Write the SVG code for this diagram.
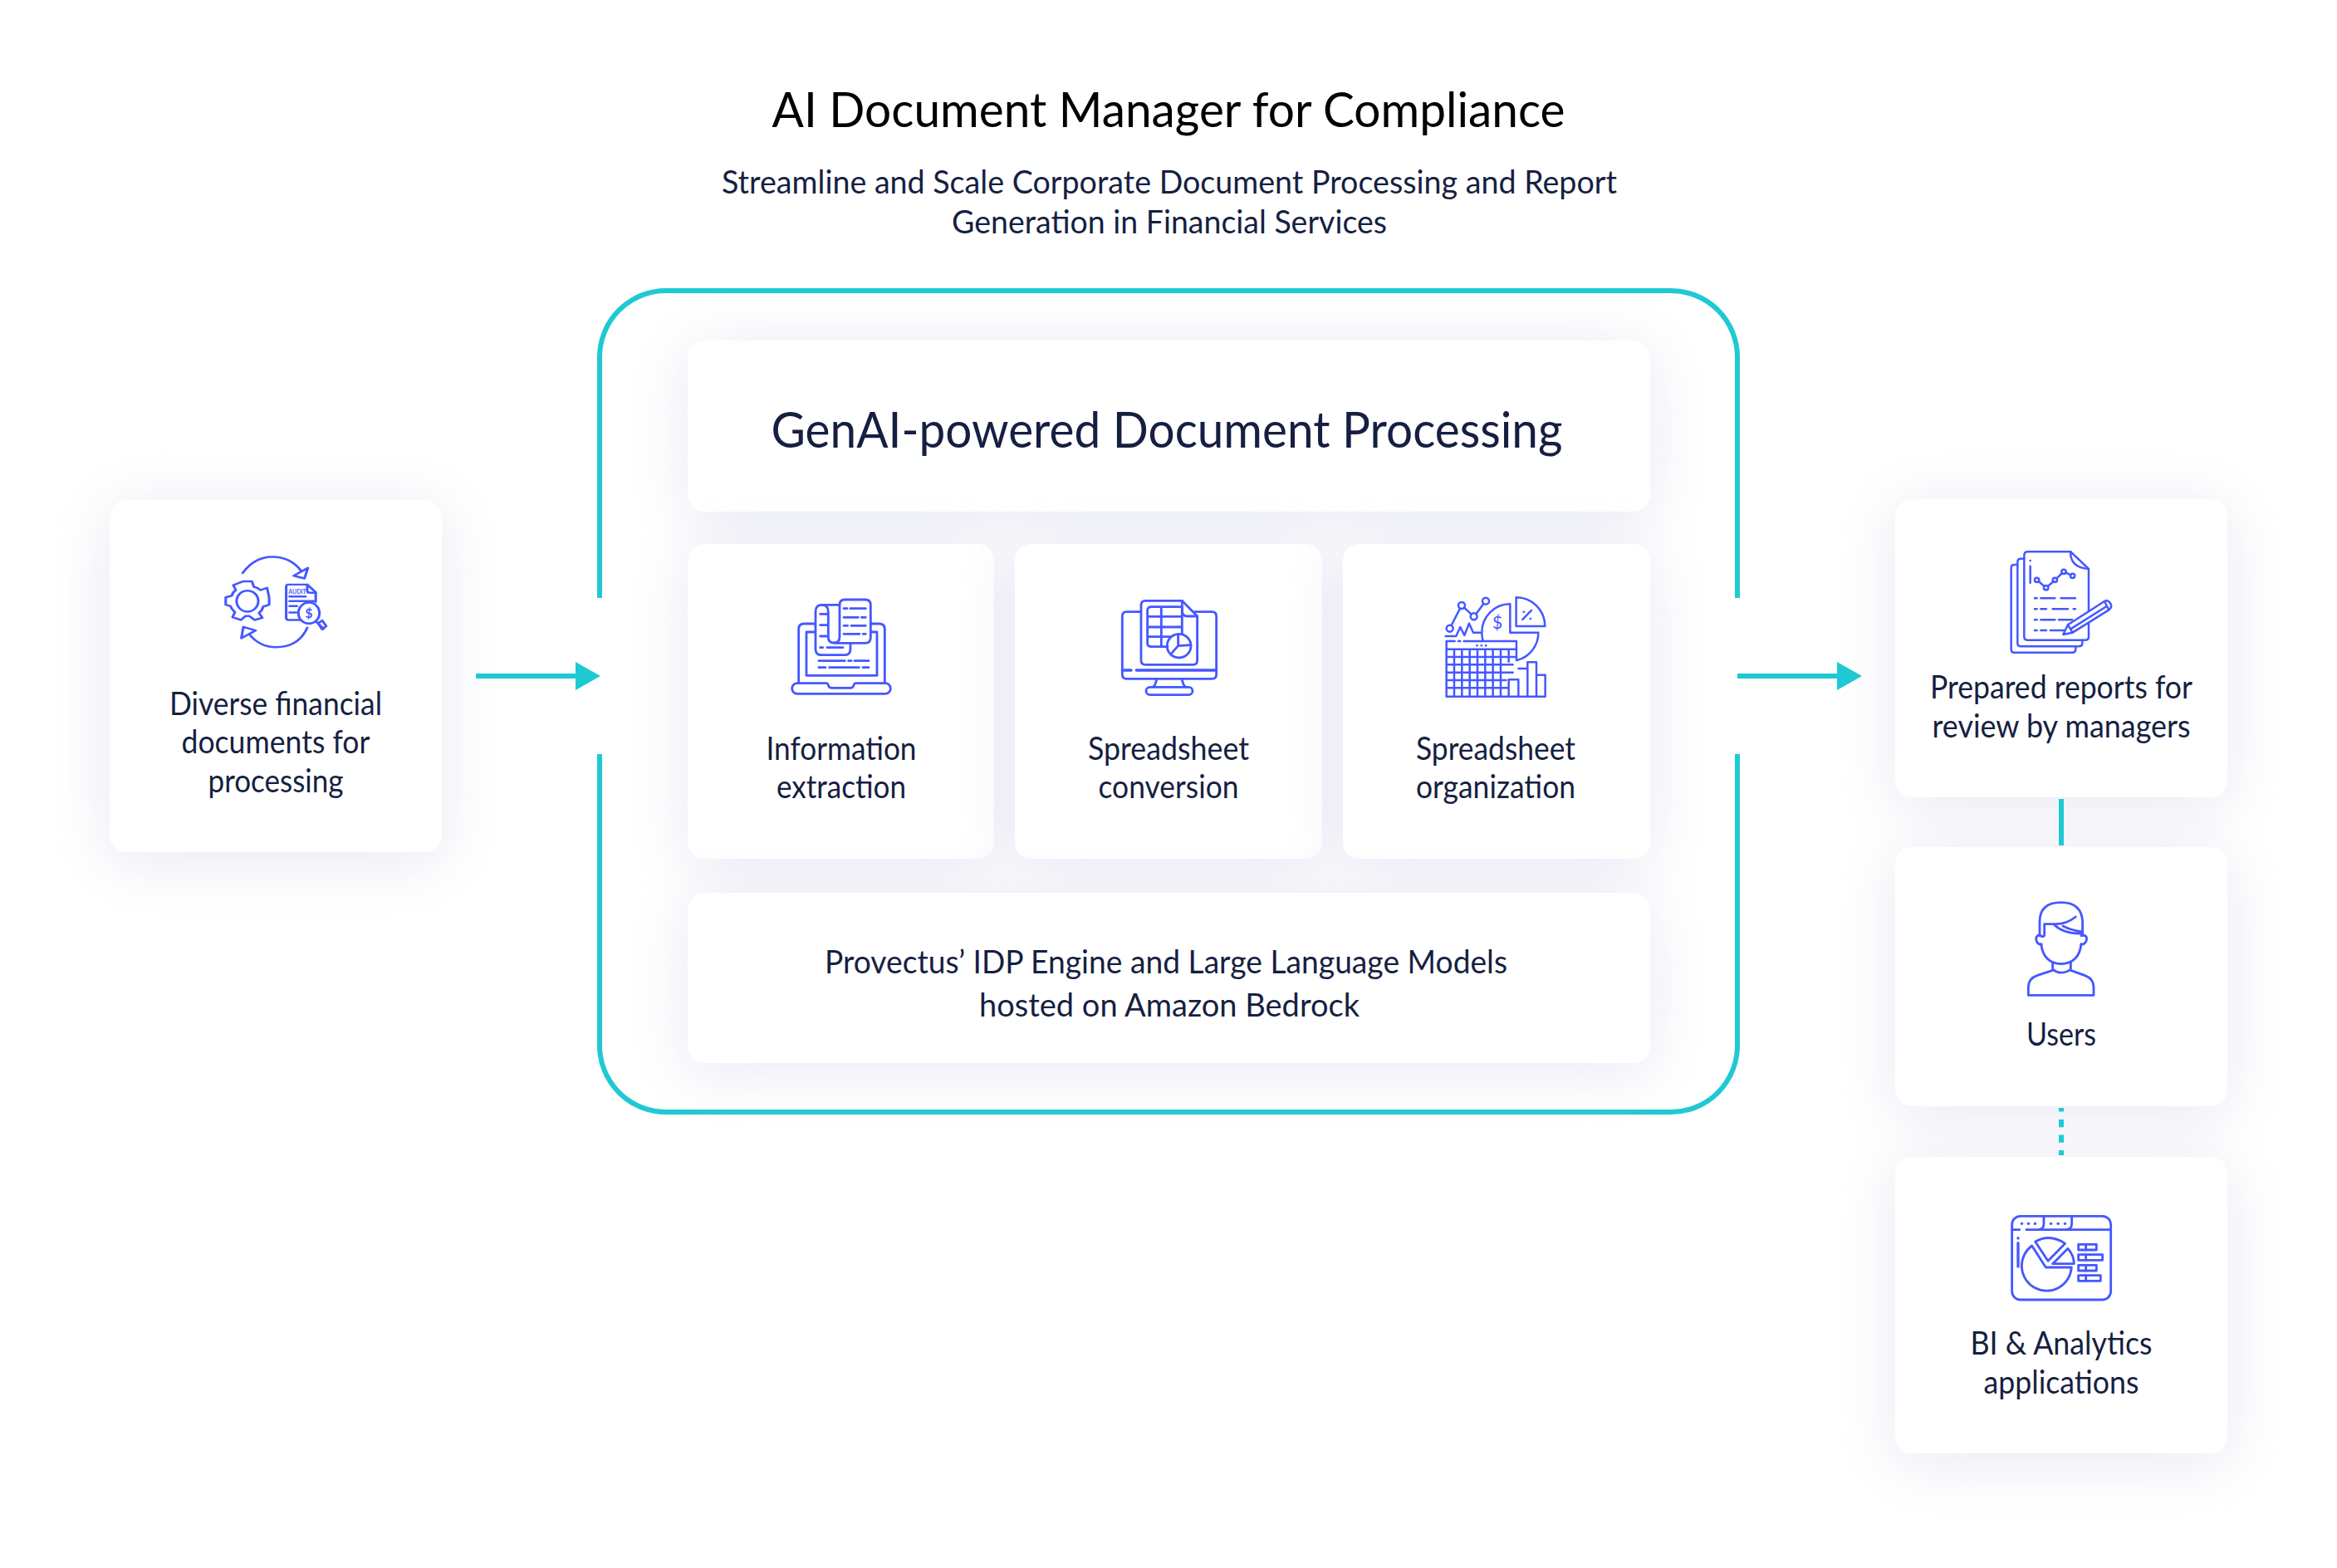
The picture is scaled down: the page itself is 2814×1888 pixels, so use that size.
<svg xmlns="http://www.w3.org/2000/svg" width="2814" height="1888" viewBox="0 0 2814 1888">
<style>
text{font-family:"Lato","Liberation Sans",sans-serif;fill:#161f42;text-anchor:middle}
.t{font-size:38px}
.card{fill:#fff;filter:url(#soft)}
.ico{fill:none;stroke:#4558ff;stroke-width:8.5;stroke-linecap:round;stroke-linejoin:round}
.dot{fill:#4558ff;stroke:none}
.teal{fill:none;stroke:#1fc9d3;stroke-width:6}
</style>
<defs>
<filter id="soft" x="-40%" y="-40%" width="180%" height="180%" color-interpolation-filters="sRGB">
<feDropShadow dx="0" dy="10" stdDeviation="36" flood-color="#bdbde0" flood-opacity="0.34"/>
</filter>
<marker id="head" markerUnits="userSpaceOnUse" markerWidth="30" markerHeight="34" refX="0" refY="17" orient="auto">
<path d="M0 0L30 17L0 34Z" fill="#1fc9d3"/>
</marker>
</defs>
<rect width="2814" height="1888" fill="#fff"/>

<g id="heading">
<text x="1407" y="153" style="font-size:58px;fill:#000" textLength="955" lengthAdjust="spacingAndGlyphs">AI Document Manager for Compliance</text>
<text x="1408" y="233" class="t" textLength="1078" lengthAdjust="spacingAndGlyphs">Streamline and Scale Corporate Document Processing and Report</text>
<text x="1408" y="281" class="t" textLength="524" lengthAdjust="spacingAndGlyphs">Generation in Financial Services</text>
</g>

<g id="frame"><path class="teal" d="M722 720V430A80 80 0 0 1 802 350H2012A80 80 0 0 1 2092 430V720M2092 908V1259A80 80 0 0 1 2012 1339H802A80 80 0 0 1 722 1259V908"/></g>

<g id="source">
<rect class="card" x="132" y="602" width="400" height="424" rx="20"/>
<g class="ico" transform="translate(100 580) scale(.409 .333)" style="stroke-width:7.5">
<path d="M470 330Q505 272 557 272Q610 272 642 322"/>
<path d="M620 340L662 312L652 350Z"/>
<path d="M660 528Q635 598 568 598Q520 598 490 552"/>
<path d="M508 538L472 525L466 566Z"/>
<path d="M472 360H497L503 380Q515 384 522 392L542 384L548 420V445L530 452Q528 465 518 475L528 492L505 500L490 486H478L465 500L440 490L447 472Q438 462 434 450L420 445V418L438 412Q440 400 450 392L442 374Z"/>
<ellipse cx="484" cy="432" rx="32" ry="38"/>
<path d="M640 500H605Q598 500 598 492V380Q598 372 605 372H660L685 400V435"/>
<path d="M660 372V395Q660 402 668 402H685"/>
<path d="M608 415H655M608 432H680M608 450H630M608 473H628"/>
<ellipse cx="665" cy="475" rx="31" ry="38"/>
<path d="M688 508L708 532"/>
<path d="M692 512L704 502L716 522L704 534Z"/>
</g>
<text x="358" y="715" style="font-size:7px;font-weight:700;fill:#4558ff">AUDIT</text>
<text x="372" y="744" style="font-size:16px;font-weight:700;fill:#4558ff">$</text>
<text x="332" y="861" class="t" textLength="256" lengthAdjust="spacingAndGlyphs">Diverse financial</text>
<text x="332" y="907" class="t" textLength="227" lengthAdjust="spacingAndGlyphs">documents for</text>
<text x="332" y="954" class="t" textLength="163" lengthAdjust="spacingAndGlyphs">processing</text>
</g>

<g id="title-card">
<rect class="card" x="828" y="410" width="1159" height="206" rx="20"/>
<text x="1405" y="539" style="font-size:60px" textLength="953" lengthAdjust="spacingAndGlyphs">GenAI-powered Document Processing</text>
</g>

<g id="extraction">
<rect class="card" x="828" y="655" width="369" height="379" rx="20"/>
<g class="ico" transform="translate(900 680) scale(.3333)">
<path d="M180 428H285Q290 428 292 435Q294 445 305 445H372Q382 445 384 435Q386 428 392 428H498A19 19 0 0 1 498 466H180A19 19 0 0 1 180 428Z"/>
<path d="M185 428V232Q185 213 205 213H245M445 213H475Q496 213 496 232V428"/>
<path d="M245 243H213V400H468V243H445"/>
<path d="M333 145H268Q246 145 246 170V305Q246 326 268 326H350Q372 326 372 305V283"/>
<path d="M268 145Q292 145 292 170V260Q292 282 312 282Q333 282 333 260V145Q333 126 352 126H425Q445 126 445 145V263Q445 283 425 283H312"/>
<path d="M263 178H290M263 218H290M263 258H290M263 299H272M288 299H345M348 158H360M372 158H427M348 190H400M412 190H427M348 220H362M375 220H427M348 250H405M418 250H427M258 347H352M365 347H375M387 347H438M258 371H282M296 371H403M417 371H438"/>
</g>
<text x="1013" y="915" class="t" textLength="181" lengthAdjust="spacingAndGlyphs">Information</text>
<text x="1013" y="961" class="t" textLength="156" lengthAdjust="spacingAndGlyphs">extraction</text>
</g>

<g id="conversion">
<rect class="card" x="1222" y="655" width="370" height="379" rx="20"/>
<g class="ico" transform="translate(1290 680) scale(.3333)">
<path d="M250 170H200Q184 170 184 186V396Q184 412 200 412H508Q524 412 524 396V186Q524 170 508 170H445"/>
<path d="M184 381H216M235 381H524" style="stroke-width:10"/>
<path d="M308 412Q306 432 295 442M400 412Q402 432 413 442"/>
<rect x="270" y="442" width="168" height="28" rx="14"/>
<path d="M400 130H268Q252 130 252 146V345Q252 361 268 361H440Q455 361 455 345V186Z"/>
<path d="M400 130V165Q400 186 420 186H455"/>
<path d="M400 152H290Q275 152 275 165V285Q275 296 290 296H348M325 152V296M275 187H400M275 225H400M275 260H360M400 152V250"/>
<circle cx="389" cy="293" r="43"/>
<path d="M386 252V293L432 290M386 293L360 322"/>
</g>
<text x="1407" y="915" class="t" textLength="194" lengthAdjust="spacingAndGlyphs">Spreadsheet</text>
<text x="1407" y="961" class="t" textLength="169" lengthAdjust="spacingAndGlyphs">conversion</text>
</g>

<g id="organization">
<rect class="card" x="1617" y="655" width="370" height="379" rx="20"/>
<g class="ico" transform="translate(1700 680) scale(.3333)" style="stroke-width:7.5">
<path d="M125 276H155M168 276H175M188 276H378V345M125 276V476H482V398H450V476M125 305H378M125 333H378M125 361H365M125 389H365M125 417H340M125 445H350M153 305V476M181 305V476M209 305V476M237 305V476M265 305V476M293 305V476M321 305V476M350 305V350M350 415V476H385M352 415H385V476H418V352H450V398M385 375H418"/>
<path d="M235 292H236M251 292H252M267 292H268"/>
<path d="M256 272Q253 258 253 245A102 102 0 0 1 355 142V245H457A102 102 0 0 1 380 345"/>
<path d="M377 118V222H481A104 104 0 0 0 377 118Z"/>
<path d="M400 198L432 165M404 170H405M428 195H429"/>
<circle cx="137" cy="230" r="12"/><circle cx="180" cy="147" r="12"/><circle cx="224" cy="187" r="12"/><circle cx="267" cy="131" r="12"/>
<path d="M143 219L174 158M189 155L215 179M232 178L259 141"/>
<path d="M122 258H160L175 225L190 255L207 212L222 245H252"/>
</g>
<text x="1803" y="757" style="font-size:21px;fill:#4558ff">$</text>
<text x="1801" y="915" class="t" textLength="192" lengthAdjust="spacingAndGlyphs">Spreadsheet</text>
<text x="1801" y="961" class="t" textLength="192" lengthAdjust="spacingAndGlyphs">organization</text>
</g>

<g id="engine">
<rect class="card" x="828" y="1075" width="1159" height="205" rx="20"/>
<text x="1404" y="1172" class="t" textLength="822" lengthAdjust="spacingAndGlyphs">Provectus’ IDP Engine and Large Language Models</text>
<text x="1408" y="1224" class="t" textLength="458" lengthAdjust="spacingAndGlyphs">hosted on Amazon Bedrock</text>
</g>

<g id="reports">
<rect class="card" x="2282" y="601" width="400" height="359" rx="20"/>
<g class="ico" transform="translate(2380 640) scale(.3333)" style="stroke-width:7.5">
<path d="M340 73H185Q172 73 172 86V380Q172 392 185 392H392Q405 392 405 380V135Z"/>
<path d="M340 73V85Q345 130 405 135"/>
<path d="M172 98H160Q148 98 148 110V403Q148 415 160 415H370Q382 415 382 403V392"/>
<path d="M148 120H136Q125 120 125 132V425Q125 437 137 437H345Q358 437 358 425V415"/>
<path d="M194 105V106M194 125V185"/>
<circle cx="218" cy="175" r="8"/><circle cx="251" cy="203" r="8"/><circle cx="283" cy="175" r="8"/><circle cx="315" cy="145" r="8"/><circle cx="347" cy="160" r="8"/>
<path d="M224 180L245 198M257 198L278 180M289 170L309 150M322 148L340 157"/>
<path d="M210 241H218M232 241H283M305 241H357M210 280H218M232 280H252M275 280H330M350 280H357M210 319H218M232 319H283M297 319H345M210 357H218M232 357H252M267 357H320"/>
<path d="M313 372L330 337L462 252Q475 245 485 262Q490 275 478 283L347 365Z" fill="#fff"/>
<path d="M330 337L347 365M462 252L478 283M340 352L470 270"/>
</g>
<text x="2482" y="841" class="t" textLength="316" lengthAdjust="spacingAndGlyphs">Prepared reports for</text>
<text x="2482" y="888" class="t" textLength="311" lengthAdjust="spacingAndGlyphs">review by managers</text>
</g>

<g id="users">
<rect class="card" x="2282" y="1020" width="400" height="312" rx="20"/>
<g class="ico" transform="translate(2390 1060) scale(.3333)">
<path d="M157 415H393V385Q393 355 360 343L310 325M245 325L190 343Q157 355 157 385V415"/>
<path d="M245 295V322Q275 345 310 322V295"/>
<path d="M203 230Q212 300 275 302Q340 300 348 230"/>
<path d="M203 200Q185 195 185 212Q187 232 205 232M348 200Q368 195 368 212Q365 232 347 232"/>
<path d="M198 200V150Q198 80 275 80Q350 80 353 150V192"/>
<path d="M215 158V198Q215 203 205 203M215 158H255Q295 158 328 132M250 160Q285 195 353 192M282 165Q310 180 353 186"/>
</g>
<text x="2482" y="1259" class="t" textLength="84" lengthAdjust="spacingAndGlyphs">Users</text>
</g>

<g id="analytics">
<rect class="card" x="2282" y="1393" width="400" height="357" rx="20"/>
<g class="ico" transform="translate(2380 1440) scale(.3333)">
<rect x="128" y="73" width="357" height="302" rx="30"/>
<path d="M128 122H155M180 122H485M243 75V100Q243 122 222 122M344 75V100Q344 122 322 122"/>
<path d="M163 100H164M187 100H188M211 100H212M268 100H269M294 100H295M319 100H320M150 152V153M150 170V255" style="stroke-width:10"/>
<path d="M200 180L250 258H343A90 90 0 1 1 200 180Z"/>
<path d="M212 165Q265 135 320 172L258 235Z"/>
<path d="M330 190Q352 215 352 245H275Z"/>
<rect x="368" y="175" width="65" height="20"/><rect x="368" y="212" width="87" height="20"/><rect x="368" y="250" width="65" height="20"/><rect x="368" y="287" width="80" height="20"/>
<path d="M395 175V195M395 212V232M395 250V270M395 287V307"/>
</g>
<text x="2482" y="1631" class="t" textLength="219" lengthAdjust="spacingAndGlyphs">BI &amp; Analytics</text>
<text x="2482" y="1678" class="t" textLength="187" lengthAdjust="spacingAndGlyphs">applications</text>
</g>

<g id="connectors">
<path class="teal" d="M573 814H693" marker-end="url(#head)"/>
<path class="teal" d="M2092 814H2212" marker-end="url(#head)"/>
<path class="teal" d="M2482 962V1018"/>
<path class="teal" d="M2482 1334V1391" stroke-dasharray="9.3 9.3" stroke-dashoffset="4.7"/>
</g>
</svg>
